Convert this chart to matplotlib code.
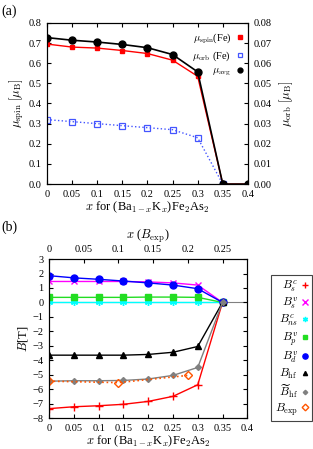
import matplotlib
matplotlib.use("Agg")
import matplotlib.pyplot as plt
import numpy as np

plt.rcParams['font.family'] = ['Liberation Serif', 'DejaVu Serif']
plt.rcParams['mathtext.fontset'] = 'cm'
plt.rcParams['font.size'] = 8

# panel (a) data
x_a = [0, 0.05, 0.1, 0.15, 0.2, 0.25, 0.3, 0.35, 0.4]
mu_spin = [0.695, 0.68, 0.675, 0.663, 0.648, 0.615, 0.535, 0.0, 0.0]
mu_avg = [0.727, 0.714, 0.705, 0.693, 0.677, 0.643, 0.557, 0.0, 0.0]
x_orb = [0, 0.05, 0.1, 0.15, 0.2, 0.25, 0.3, 0.35]
mu_orb = [0.032, 0.031, 0.030, 0.029, 0.028, 0.027, 0.023, 0.0]

# panel (b) data
x_b = [0, 0.05, 0.1, 0.15, 0.2, 0.25, 0.3, 0.35]
Bs_c = [-7.35, -7.22, -7.15, -7.05, -6.85, -6.5, -5.7, 0.0]
Bs_v = [1.45, 1.45, 1.45, 1.45, 1.42, 1.35, 1.2, 0.0]
Bns_c = [0.0, 0.0, 0.0, 0.0, 0.0, 0.0, 0.0, 0.0]
Bp_v = [0.35, 0.35, 0.35, 0.35, 0.37, 0.37, 0.35, 0.0]
Bd_v = [1.85, 1.7, 1.6, 1.48, 1.35, 1.2, 0.95, 0.0]
B_hf = [-3.65, -3.65, -3.65, -3.65, -3.6, -3.45, -3.05, 0.0]
B_hf_t = [-5.45, -5.42, -5.42, -5.4, -5.3, -5.05, -4.5, 0.0]
x_exp = [0, 0.1, 0.2]
B_exp = [-5.45, -5.55, -5.05]

xlabel = r'$x$ for (Ba$_{1-x}$K$_x$)Fe$_2$As$_2$'
xt = [0, 0.05, 0.1, 0.15, 0.2, 0.25, 0.3, 0.35, 0.4]
xtl = ['0', '0.05', '0.1', '0.15', '0.2', '0.25', '0.3', '0.35', '0.4']

fig = plt.figure(figsize=(3.13, 4.49), dpi=100)

# ---- (a)
ax = fig.add_axes([0.150, 0.590, 0.642, 0.359])
ax2 = ax.twinx()
ax2.plot(x_orb, mu_orb, color='#4455ff', ls=':', lw=1, marker='s', ms=4,
         mfc='none', mew=0.9, label=r'$\mu_{\rm orb}$ (Fe)')
ax.plot(x_a, mu_spin, color='red', lw=1, marker='s', ms=3.5, label=r'$\mu_{\rm spin}$(Fe)')
ax.plot(x_a, mu_avg, color='black', lw=1.2, marker='o', ms=5, label=r'$\mu_{\rm avg}$')
ax.set_zorder(ax2.get_zorder() + 1)
ax.patch.set_visible(False)
ax.set_xlim(0, 0.4)
ax.set_ylim(0, 0.8)
ax2.set_ylim(0, 0.08)
ax.set_xticks(xt)
ax.set_xticklabels(xtl)
ax.set_yticks(np.arange(0, 0.81, 0.1))
ax.set_yticklabels(['%.1f' % v for v in np.arange(0, 0.81, 0.1)])
ax2.set_yticks(np.arange(0, 0.081, 0.01))
ax2.set_yticklabels(['%.2f' % v for v in np.arange(0, 0.081, 0.01)])
ax.tick_params(direction='in', top=True, labelsize=7.5, length=3, pad=4)
ax2.tick_params(direction='in', labelsize=7.5, length=3, pad=4)
ax.set_xlabel(xlabel, fontsize=9, labelpad=1)
ax.set_ylabel(r'$\mu_{\rm spin}$ $[\mu_{\rm B}]$', fontsize=9, labelpad=2)
ax2.set_ylabel(r'$\mu_{\rm orb}$ $[\mu_{\rm B}]$', fontsize=9, labelpad=4)
h1, l1 = ax.get_legend_handles_labels()
h2, l2 = ax2.get_legend_handles_labels()
ax.legend([h1[0], h2[0], h1[1]], [l1[0], l2[0], l1[1]], loc='upper right',
          frameon=False, markerfirst=False, fontsize=7.5, handlelength=0,
          handletextpad=0.8, borderaxespad=0.4, labelspacing=0.35,
          markerscale=0.7)
fig.text(0.005, 0.975, '(a)', fontsize=10, va='center')

# ---- (b)
bx = fig.add_axes([0.157, 0.069, 0.633, 0.354])
bx.axhline(0, color='gray', lw=0.8, zorder=0)
bx.plot(x_b, Bs_c, color='red', lw=1, marker='+', ms=6, label=r'$B_s^c$')
bx.plot(x_b, Bs_v, color='magenta', lw=1, marker='x', ms=5, label=r'$B_s^v$')
bx.plot(x_b, Bns_c, color='cyan', lw=1, marker=(6, 2, 0), ms=5, label=r'$B_{ns}^c$')
bx.plot(x_b, Bp_v, color='#22dd22', lw=1, marker='s', ms=4, label=r'$B_p^v$')
bx.plot(x_b, Bd_v, color='blue', lw=1, marker='o', ms=5, label=r'$B_d^v$')
bx.plot(x_b, B_hf, color='black', lw=1, marker='^', ms=4, label=r'$B_{\rm hf}$')
bx.plot(x_b, B_hf_t, color='gray', lw=1, marker='D', ms=3, label=r'$\widetilde{B}_{\rm hf}$')
bx_top = bx.twiny()
bx_top.plot(x_exp, B_exp, color='#ff5500', ls=':', lw=1.2, marker='D', ms=4.5,
            mfc='none', mew=1, label=r'$B_{\rm exp}$')
bx.set_xlim(0, 0.4)
bx_top.set_xlim(0, 0.4 * 0.25 / 0.35)
bx.set_ylim(-8, 3)
bx.set_xticks(xt)
bx.set_xticklabels(xtl)
bx.set_yticks(range(-8, 4))
bx_top.set_xticks([0, 0.05, 0.1, 0.15, 0.2, 0.25])
bx_top.set_xticklabels(['0', '0.05', '0.1', '0.15', '0.2', '0.25'])
bx.tick_params(direction='in', right=True, labelsize=7.5, length=3, pad=4)
bx_top.tick_params(direction='in', labelsize=7.5, length=3, pad=4)
bx.set_xlabel(xlabel, fontsize=9, labelpad=1)
bx.set_ylabel(r'$B$[T]', fontsize=9, labelpad=2)
bx_top.set_xlabel(r'$x$ ($B_{\rm exp}$)', fontsize=9, labelpad=4)
hb, lb = bx.get_legend_handles_labels()
ht, lt = bx_top.get_legend_handles_labels()
leg = bx.legend(hb + ht, lb + lt, loc='upper left', bbox_to_anchor=(1.12, 0.9),
                markerfirst=False, fontsize=8.5, handlelength=0.6,
                handletextpad=0.3, labelspacing=0.1, borderpad=0.3,
                borderaxespad=0.0, fancybox=False, edgecolor='#444444',
                framealpha=1, markerscale=0.75)
leg.get_frame().set_linewidth(0.8)
for h in leg.legend_handles:
    h.set_linestyle('')
fig.text(0.005, 0.493, '(b)', fontsize=10, va='center')

fig.savefig('out.png', dpi=100)
